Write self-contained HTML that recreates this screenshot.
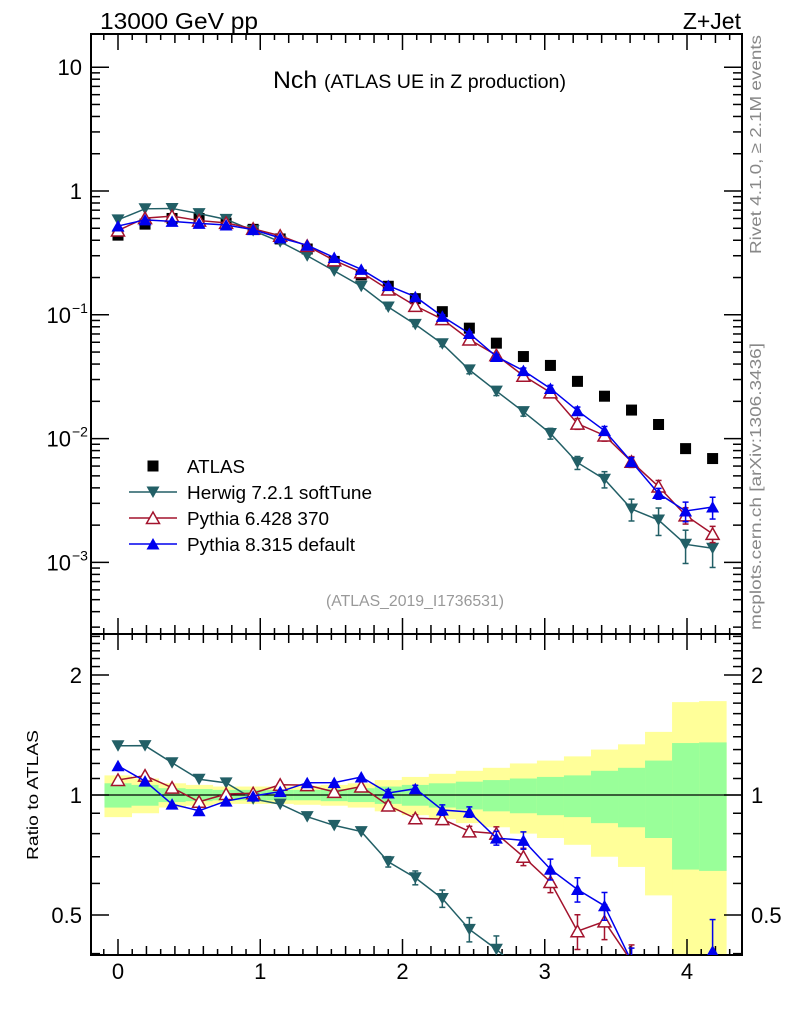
<!DOCTYPE html>
<html><head><meta charset="utf-8"><style>
body{margin:0;background:#fff;overflow:hidden}
svg{display:block;font-family:"Liberation Sans",Arial,sans-serif}
</style></head><body>
<svg id="c" width="786" height="1024" viewBox="0 0 786 1024">
<text x="100" y="29" font-size="23" textLength="158" lengthAdjust="spacingAndGlyphs">13000 GeV pp</text>
<text x="741" y="29" font-size="23" text-anchor="end">Z+Jet</text>
<text x="273" y="88" font-size="24" textLength="293" lengthAdjust="spacingAndGlyphs">Nch <tspan font-size="19">(ATLAS UE in Z production)</tspan></text>
<text x="326" y="606" font-size="16" fill="#999" textLength="178" lengthAdjust="spacingAndGlyphs">(ATLAS_2019_I1736531)</text>
<text transform="translate(761,254) rotate(-90)" font-size="16" fill="#888" textLength="219" lengthAdjust="spacingAndGlyphs">Rivet 4.1.0, ≥ 2.1M events</text>
<text transform="translate(761,630) rotate(-90)" font-size="16" fill="#888" textLength="287" lengthAdjust="spacingAndGlyphs">mcplots.cern.ch [arXiv:1306.3436]</text>
<text transform="translate(38,860) rotate(-90)" font-size="16" textLength="130" lengthAdjust="spacingAndGlyphs">Ratio to ATLAS</text>
<g id="g"></g>
</svg>
<script>
const xs=[0,0.19,0.38,0.57,0.76,0.95,1.14,1.33,1.52,1.71,1.9,2.09,2.28,2.47,2.66,2.85,3.04,3.23,3.42,3.61,3.8,3.99,4.18];
const atlas=[0.44,0.54,0.60,0.60,0.55,0.49,0.41,0.34,0.27,0.21,0.17,0.135,0.106,0.078,0.059,0.046,0.039,0.029,0.022,0.017,0.013,0.0083,0.0069];
const herwig=[0.585,0.718,0.723,0.657,0.59,0.479,0.389,0.30,0.2265,0.170,0.1156,0.0837,0.0583,0.0359,0.0242,0.0165,0.011,0.0064,0.0047,0.0027,0.0022,0.0014,0.0013];
const py6=[0.48,0.604,0.626,0.577,0.553,0.495,0.435,0.360,0.275,0.2205,0.160,0.118,0.0922,0.0632,0.0472,0.0322,0.0236,0.0132,0.0106,0.0065,0.0041,0.0024,0.0017];
const py8=[0.521,0.585,0.569,0.548,0.531,0.487,0.418,0.365,0.290,0.233,0.172,0.140,0.0972,0.0707,0.046,0.0354,0.0254,0.0168,0.0116,0.0065,0.0036,0.0026,0.0028];
const herwigErr=[0,0,0,0,0,0,0,0,0,0,0.03,0.04,0.05,0.07,0.08,0.08,0.1,0.12,0.15,0.2,0.25,0.3,0.3];
const py6Err=[0,0,0,0,0,0,0,0,0,0,0.02,0.02,0.03,0.03,0.04,0.05,0.06,0.1,0.1,0.1,0.12,0.15,0.15];
const py8Err=[0,0,0,0,0,0,0,0,0,0,0.02,0.02,0.03,0.03,0.04,0.05,0.06,0.07,0.08,0.08,0.1,0.18,0.2];
const bandInner=[0.07,0.06,0.04,0.035,0.03,0.03,0.03,0.03,0.035,0.04,0.05,0.06,0.07,0.08,0.09,0.10,0.11,0.12,0.15,0.17,0.22,0.35,0.355];
const bandOuter=[0.12,0.10,0.07,0.06,0.05,0.05,0.05,0.055,0.06,0.07,0.09,0.11,0.13,0.15,0.17,0.20,0.22,0.25,0.30,0.34,0.44,0.71,0.72];

const L=91,R=742,T=34,M=634,B=955;
const X=v=>118+v*142.25;
const Y=v=>191-Math.log10(v)*123.8;
const RY=v=>795-Math.log10(v)*398.6;
const NS='http://www.w3.org/2000/svg';
const g=document.getElementById('g');
function el(t,a,p){const e=document.createElementNS(NS,t);for(const k in a)e.setAttribute(k,a[k]);(p||g).appendChild(e);return e;}

const defs=el('defs',{});
const cp=el('clipPath',{id:'rc'},defs);el('rect',{x:L,y:M,width:R-L,height:B-M},cp);
const cpm=el('clipPath',{id:'mc'},defs);el('rect',{x:L,y:T,width:R-L,height:M-T},cpm);

const bandG=el('g',{'clip-path':'url(#rc)'});


xs.forEach((x,i)=>{
  const x0=X(x-0.095),w=X(x+0.095)-x0;
  const o=el('rect',{x:x0,y:RY(1+bandOuter[i]),width:w+0.5,height:RY(Math.max(1-bandOuter[i],0.01))-RY(1+bandOuter[i]),fill:'#ffff99'},bandG);
  
  
  const n=el('rect',{x:x0,y:RY(1+bandInner[i]),width:w+0.5,height:RY(1-bandInner[i])-RY(1+bandInner[i]),fill:'#99ff99'},bandG);
  
  
});
el('line',{x1:L,x2:R,y1:RY(1),y2:RY(1),stroke:'#000','stroke-width':1.2});

el('rect',{x:L,y:T,width:R-L,height:M-T,fill:'none',stroke:'#000','stroke-width':2});
el('rect',{x:L,y:M,width:R-L,height:B-M,fill:'none',stroke:'#000','stroke-width':2});

for(let k=-1;k<=43;k++){const v=k/10;const x=X(v);if(x<=L+1||x>=R-1)continue;
  const len=(k%10===0)?16:(k%2===0?9:6);
  [[T,1],[M,-1],[M,1],[B,-1]].forEach(([y,d])=>el('line',{x1:x,x2:x,y1:y,y2:y+d*len,stroke:'#000','stroke-width':1.5}));
}
[0,1,2,3,4].forEach(v=>{const t=el('text',{x:X(v),y:979,'font-size':22,'text-anchor':'middle'});t.textContent=v;
 });

for(let e=-4;e<=1;e++){for(let m=1;m<=9;m++){const v=m*Math.pow(10,e);const y=Y(v);if(y<T+1||y>M-1)continue;
  const len=m===1?18:9;
  el('line',{x1:L,x2:L+len,y1:y,y2:y,stroke:'#000','stroke-width':1.5});
  el('line',{x1:R,x2:R-len,y1:y,y2:y,stroke:'#000','stroke-width':1.5});
}}
[[1,'10',null],[0,'1',null],[-1,'10','−1'],[-2,'10','−2'],[-3,'10','−3']].forEach(([e,b,s])=>{
  const t=el('text',{x:s?71:82,y:Y(Math.pow(10,e))+8,'font-size':22,'text-anchor':'end'});t.textContent=b;
  
  if(s){const u=el('text',{x:72,y:Y(Math.pow(10,e))-2,'font-size':14});u.textContent=s;
  }
});
for(let k=3;k<=25;k++){const v=k/10;const y=RY(v);if(y<M+1||y>B-1)continue;
  const len=(k===5||k===10||k===20)?18:9;
  el('line',{x1:L,x2:L+len,y1:y,y2:y,stroke:'#000','stroke-width':1.5});
  el('line',{x1:R,x2:R-len,y1:y,y2:y,stroke:'#000','stroke-width':1.5});
}
[[2,'2'],[1,'1'],[0.5,'0.5']].forEach(([v,s])=>{
  const a=el('text',{x:82,y:RY(v)+8,'font-size':22,'text-anchor':'end'});a.textContent=s;
  
  const b=el('text',{x:751,y:RY(v)+8,'font-size':22});b.textContent=s;
  
});

function marker(p,type,x,y,c){
  if(type==='sq')return el('rect',{x:x-5.5,y:y-5.5,width:11,height:11,fill:'#000'},p);
  if(type==='dn')return el('polygon',{points:`${x-6.5},${y-5.5} ${x+6.5},${y-5.5} ${x},${y+6}`,fill:c},p);
  if(type==='up')return el('polygon',{points:`${x-6.5},${y+5.5} ${x+6.5},${y+5.5} ${x},${y-6}`,fill:c},p);
  if(type==='upo')return el('polygon',{points:`${x-6.5},${y+5.5} ${x+6.5},${y+5.5} ${x},${y-6}`,fill:'#fff',stroke:c,'stroke-width':1.5},p);
}
const series=[
  {name:'herwig',vals:herwig,err:herwigErr,c:'#225f66',m:'dn'},
  {name:'pythia6',vals:py6,err:py6Err,c:'#a3132d',m:'upo'},
  {name:'pythia8',vals:py8,err:py8Err,c:'#0000ee',m:'up'}];

const ag=el('g',{});
xs.forEach((x,i)=>{const m=marker(ag,'sq',X(x),Y(atlas[i]));});

series.forEach(s=>{
  const gm=el('g',{'clip-path':'url(#mc)'});
  const gr=el('g',{'clip-path':'url(#rc)'});
  [[gm,i=>s.vals[i],Y],[gr,i=>s.vals[i]/atlas[i],RY]].forEach(([p,f,sc])=>{
    el('polyline',{points:xs.map((x,i)=>X(x)+','+sc(f(i))).join(' '),fill:'none',stroke:s.c,'stroke-width':1.5},p);
    xs.forEach((x,i)=>{const v=f(i),e=s.err[i];
      if(e>0){const y1=sc(v*(1+e)),y2=sc(v*(1-e));
        el('line',{x1:X(x),x2:X(x),y1:y1,y2:y2,stroke:s.c,'stroke-width':1.5},p);
        el('line',{x1:X(x)-3,x2:X(x)+3,y1:y1,y2:y1,stroke:s.c,'stroke-width':1.5},p);
        el('line',{x1:X(x)-3,x2:X(x)+3,y1:y2,y2:y2,stroke:s.c,'stroke-width':1.5},p);}
      const m=marker(p,s.m,X(x),sc(v),s.c);
    });
  });
});

const lg=el('g',{});
const items=[['ATLAS','sq','#000',58],['Herwig 7.2.1 softTune','dn','#225f66',185],['Pythia 6.428 370','upo','#a3132d',142],['Pythia 8.315 default','up','#0000ee',168]];
items.forEach((it,k)=>{const y=466+k*26;
  const e=el('g',{},lg);
  if(k>0)el('line',{x1:129,x2:177,y1:y,y2:y,stroke:it[2],'stroke-width':1.5},e);
  marker(e,it[1],153,y,it[2]);
  const t=el('text',{x:187,y:y+7,'font-size':18,textLength:it[3],lengthAdjust:'spacingAndGlyphs'},e);t.textContent=it[0];
});
</script>
</body></html>
